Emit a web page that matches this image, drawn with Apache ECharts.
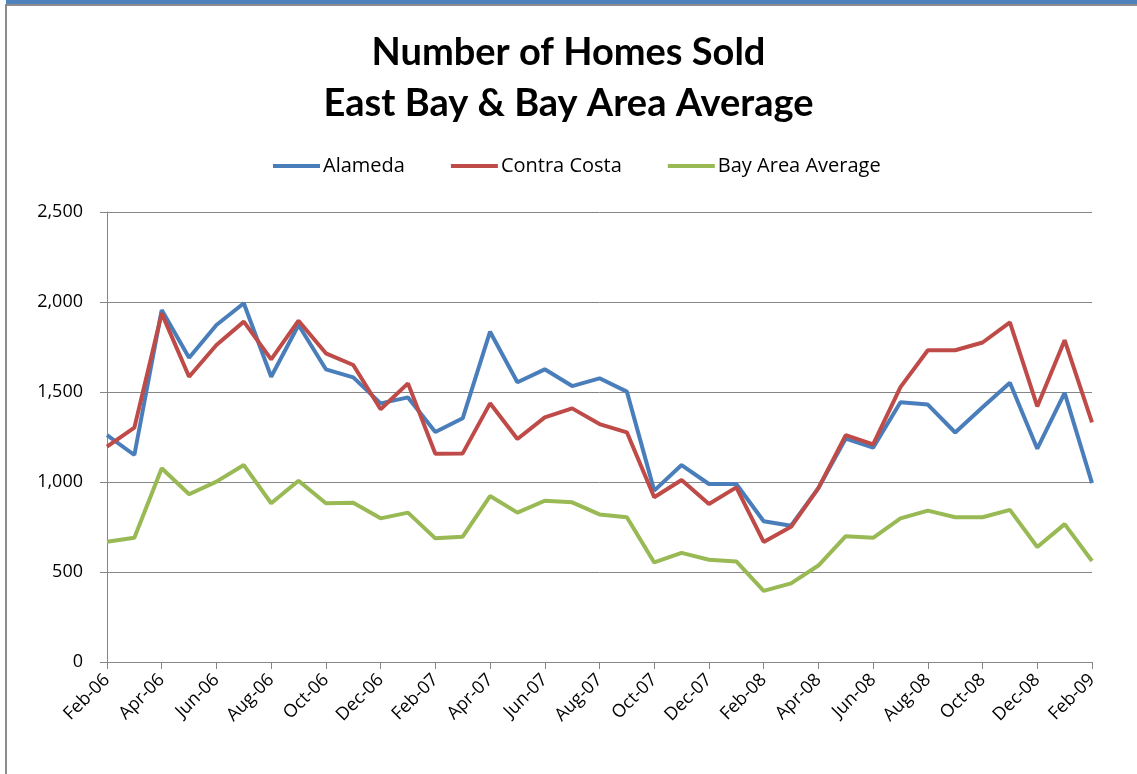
<!DOCTYPE html>
<html>
<head>
<meta charset="utf-8">
<script src="https://cdn.jsdelivr.net/npm/echarts@6/dist/echarts.min.js"></script>
<style>
html,body{margin:0;padding:0;background:#fff;}
#chart{width:1137px;height:774px;}
</style>
</head>
<body>
<div id="chart"></div>
<script>
var months = ['Feb-06','Mar-06','Apr-06','May-06','Jun-06','Jul-06','Aug-06','Sep-06','Oct-06','Nov-06','Dec-06','Jan-07',
  'Feb-07','Mar-07','Apr-07','May-07','Jun-07','Jul-07','Aug-07','Sep-07','Oct-07','Nov-07','Dec-07','Jan-08',
  'Feb-08','Mar-08','Apr-08','May-08','Jun-08','Jul-08','Aug-08','Sep-08','Oct-08','Nov-08','Dec-08','Jan-09','Feb-09'];
var alameda = [1261,1150,1955,1690,1872,1993,1585,1872,1626,1581,1437,1470,
  1278,1354,1835,1554,1626,1533,1576,1502,952,1094,989,989,
  782,757,966,1241,1191,1443,1430,1275,1415,1551,1185,1495,994];
var contraCosta = [1196,1302,1937,1585,1761,1891,1681,1896,1715,1650,1404,1548,
  1157,1159,1437,1239,1359,1409,1322,1276,915,1011,878,970,
  667,751,966,1260,1209,1527,1732,1732,1775,1887,1420,1788,1331];
var bayArea = [668,690,1076,932,1002,1094,882,1007,882,885,798,830,
  687,696,922,830,896,887,820,804,553,606,568,559,
  395,437,536,699,690,798,841,804,804,845,639,766,561];
var seriesNames = ['Alameda','Contra Costa','Bay Area Average'];
var yTicks = {min:0, max:2500, interval:500};

var chart = echarts.init(document.getElementById('chart'), null, {renderer:'canvas'});
var lab = {fontFamily:'Open Sans', color:'#000'};
function mk(name, data, color){
  return {name:name, type:'line', data:data, symbol:'none', smooth:false,
    lineStyle:{color:color, width:4}, itemStyle:{color:color}};
}
chart.setOption({
  backgroundColor:'#fff',
  animation:false,
  title:{text:'Number of Homes Sold\nEast Bay & Bay Area Average', left:'center', top:22,
    textStyle:{fontFamily:'Lato', fontWeight:'bold', fontSize:38, lineHeight:51, color:'#000'}},
  legend:{left:268, top:151, icon:'rect', itemWidth:47, itemHeight:4, itemGap:46,
    textStyle:{fontFamily:'Open Sans', fontSize:20, color:'#000', padding:[0,0,0,-2]},
    data:seriesNames},
  grid:{left:107, right:45, top:212, bottom:112, containLabel:false},
  xAxis:{type:'category', data:months, boundaryGap:false,
    axisLine:{lineStyle:{color:'#868686', width:1}},
    axisTick:{interval:1, length:7, lineStyle:{color:'#868686'}},
    axisLabel:Object.assign({interval:1, rotate:45, fontSize:18, margin:15}, lab),
    splitLine:{show:false}},
  yAxis:{type:'value', min:yTicks.min, max:yTicks.max, interval:yTicks.interval,
    axisLine:{show:true, lineStyle:{color:'#868686', width:1}},
    axisTick:{show:true, length:7, lineStyle:{color:'#868686'}},
    axisLabel:Object.assign({fontSize:18, margin:24, formatter:function(v){return v.toLocaleString('en-US');}}, lab),
    splitLine:{lineStyle:{color:'#868686', width:1}}},
  series:[mk(seriesNames[0], alameda, '#4A7EBB'), mk(seriesNames[1], contraCosta, '#BE4B48'), mk(seriesNames[2], bayArea, '#98B954')],
  graphic:[
    {type:'rect', shape:{x:6, y:0, width:1131, height:4}, style:{fill:'#4F81BD'}},
    {type:'rect', shape:{x:6, y:4, width:1131, height:2}, style:{fill:'#8C8C8C'}},
    {type:'rect', shape:{x:5, y:4, width:2, height:770}, style:{fill:'#8C8C8C'}}
  ]
});
</script>
</body>
</html>
